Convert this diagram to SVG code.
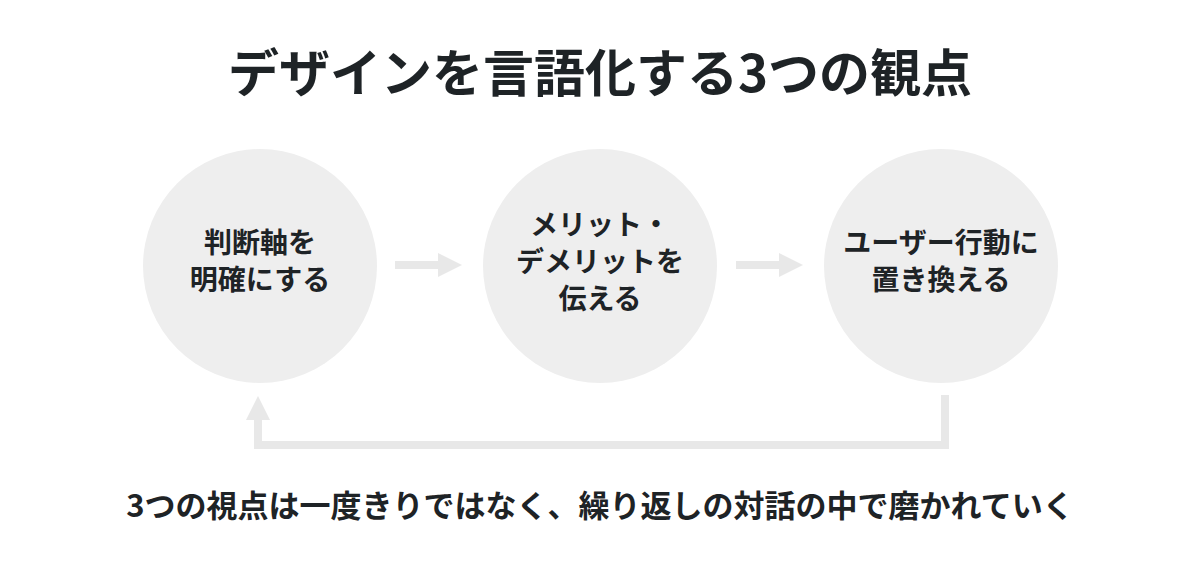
<svg xmlns="http://www.w3.org/2000/svg" width="1200" height="571" viewBox="0 0 1200 571">
<style>
text{font-family:"Noto Sans CJK JP","Noto Sans",sans-serif;fill:#1e2326;text-anchor:middle;font-weight:bold}
.t{font-size:28px}
.c{fill:#eeeeee}
.ln{stroke:#e8e8e8;stroke-width:8;fill:none}
</style>
<defs>
<marker id="a" viewBox="0 0 10 10" refX="5" refY="5" markerWidth="3" markerHeight="3" orient="auto" markerUnits="strokeWidth"><path d="M0,0L10,5L0,10z" fill="#e8e8e8"/></marker>
</defs>
<rect width="1200" height="571" fill="#fff"/>
<text x="600" y="92" font-size="51">デザインを言語化する3つの観点</text>
<g id="n1"><circle class="c" cx="260" cy="266" r="117"/><text class="t" x="260" y="253">判断軸を</text><text class="t" x="260" y="290">明確にする</text></g>
<g id="n2"><circle class="c" cx="600" cy="266" r="117"/><text class="t" x="600" y="235">メリット・</text><text class="t" x="600" y="272">デメリットを</text><text class="t" x="600" y="309">伝える</text></g>
<g id="n3"><circle class="c" cx="941" cy="266" r="117"/><text class="t" x="941" y="253">ユーザー行動に</text><text class="t" x="941" y="290">置き換える</text></g>
<g id="connectors">
<path class="ln" d="M395,265H450" marker-end="url(#a)"/>
<path class="ln" d="M736,265H791" marker-end="url(#a)"/>
<path class="ln" d="M945,395V445H258V408" marker-end="url(#a)"/>
</g>
<text x="600" y="517" font-size="31">3つの視点は一度きりではなく、繰り返しの対話の中で磨かれていく</text>
</svg>
